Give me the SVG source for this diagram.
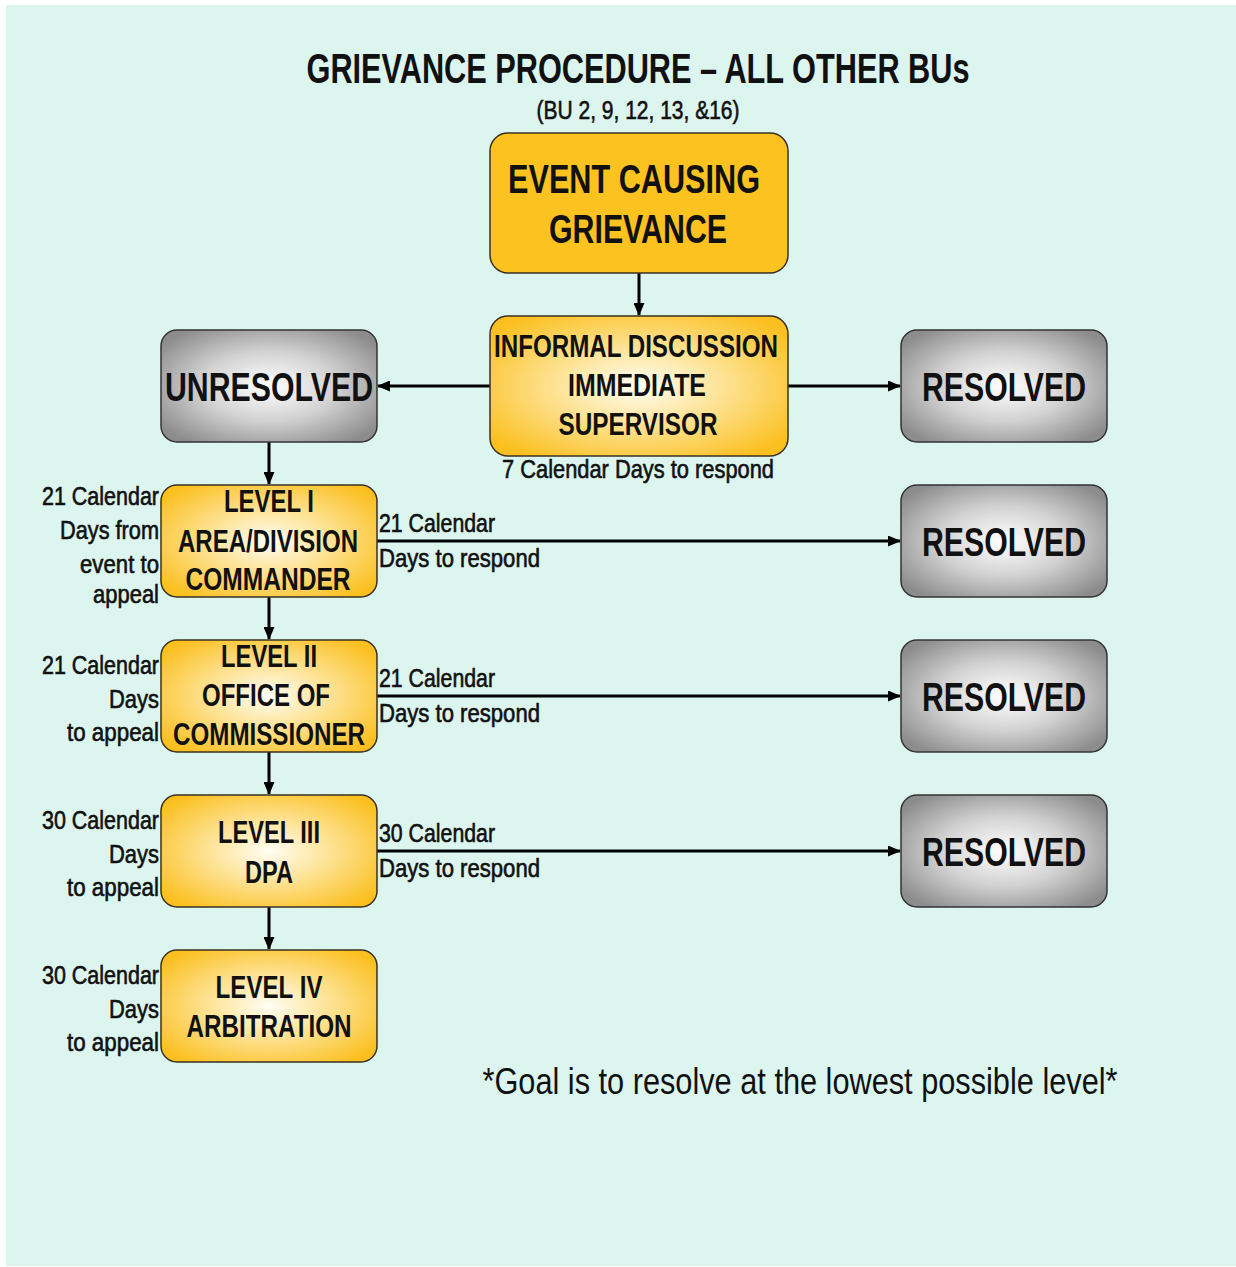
<svg xmlns="http://www.w3.org/2000/svg" width="1236" height="1267" viewBox="0 0 1236 1267">
<defs>
<radialGradient id="gold" cx="50%" cy="50%" r="62%">
<stop offset="0" stop-color="#fffdf5"/>
<stop offset="0.4" stop-color="#fee6a0"/>
<stop offset="1" stop-color="#fbc020"/>
</radialGradient>
<radialGradient id="grey" cx="50%" cy="50%" r="62%">
<stop offset="0" stop-color="#ffffff"/>
<stop offset="0.5" stop-color="#d2d2d2"/>
<stop offset="1" stop-color="#8c8c8c"/>
</radialGradient>
<marker id="ah" markerWidth="13" markerHeight="11" refX="12" refY="5.5" orient="auto" markerUnits="userSpaceOnUse">
<path d="M0,0 L13,5.5 L0,11 Z" fill="#000"/>
</marker>
</defs>
<style>
text{font-family:"Liberation Sans Narrow","Liberation Sans",Arial,sans-serif;fill:#111;}
.b{font-weight:bold;}
.box{stroke:#3a3020;stroke-width:1.5;}
.gold{fill:url(#gold);}
.grey{fill:url(#grey);stroke:#333;}
.c{stroke:#000;stroke-width:3;fill:none;marker-end:url(#ah);}
.t{font-size:31px;font-weight:bold;text-anchor:middle;}
.r{font-size:40px;font-weight:bold;text-anchor:middle;}
.lab{font-size:25px;stroke:#111;stroke-width:0.6;}
.le{font-size:25px;text-anchor:end;stroke:#111;stroke-width:0.6;}
</style>
<rect x="6" y="5" width="1230" height="1261" fill="#dcf5ef"/>
<text class="b" x="638" y="83" font-size="42" text-anchor="middle" textLength="663" lengthAdjust="spacingAndGlyphs">GRIEVANCE PROCEDURE – ALL OTHER BUs</text>
<text x="638" y="119" font-size="26" text-anchor="middle" stroke="#111" stroke-width="0.6" textLength="203" lengthAdjust="spacingAndGlyphs">(BU 2, 9, 12, 13, &amp;16)</text>

<g id="connectors">
<line class="c" x1="639" y1="273" x2="639" y2="315"/>
<line class="c" x1="490" y1="386" x2="378" y2="386"/>
<line class="c" x1="788" y1="386" x2="900" y2="386"/>
<line class="c" x1="269" y1="442" x2="269" y2="484"/>
<line class="c" x1="377" y1="541" x2="900" y2="541"/>
<line class="c" x1="269" y1="597" x2="269" y2="639"/>
<line class="c" x1="377" y1="696" x2="900" y2="696"/>
<line class="c" x1="269" y1="752" x2="269" y2="794"/>
<line class="c" x1="377" y1="851" x2="900" y2="851"/>
<line class="c" x1="269" y1="907" x2="269" y2="949"/>
</g>

<g id="event">
<rect class="box" x="490" y="133" width="298" height="140" rx="18" fill="#fcc21f"/>
<text class="b" x="634" y="193" font-size="41" text-anchor="middle" textLength="252" lengthAdjust="spacingAndGlyphs">EVENT CAUSING</text>
<text class="b" x="638" y="243" font-size="41" text-anchor="middle" textLength="178" lengthAdjust="spacingAndGlyphs">GRIEVANCE</text>
</g>

<g id="informal">
<rect class="box gold" x="490" y="316" width="298" height="140" rx="18"/>
<text class="t" x="636" y="357" textLength="284" lengthAdjust="spacingAndGlyphs">INFORMAL DISCUSSION</text>
<text class="t" x="637" y="396" textLength="138" lengthAdjust="spacingAndGlyphs">IMMEDIATE</text>
<text class="t" x="638" y="435" textLength="159" lengthAdjust="spacingAndGlyphs">SUPERVISOR</text>
<text class="lab" x="638" y="478" text-anchor="middle" textLength="272" lengthAdjust="spacingAndGlyphs">7 Calendar Days to respond</text>
</g>

<g id="unresolved">
<rect class="box grey" x="161" y="330" width="216" height="112" rx="16"/>
<text class="r" x="269" y="401" textLength="208" lengthAdjust="spacingAndGlyphs">UNRESOLVED</text>
</g>

<g id="resolved0">
<rect class="box grey" x="901" y="330" width="206" height="112" rx="16"/>
<text class="r" x="1004" y="401" textLength="164" lengthAdjust="spacingAndGlyphs">RESOLVED</text>
</g>
<g id="resolved1">
<rect class="box grey" x="901" y="485" width="206" height="112" rx="16"/>
<text class="r" x="1004" y="556" textLength="164" lengthAdjust="spacingAndGlyphs">RESOLVED</text>
</g>
<g id="resolved2">
<rect class="box grey" x="901" y="640" width="206" height="112" rx="16"/>
<text class="r" x="1004" y="711" textLength="164" lengthAdjust="spacingAndGlyphs">RESOLVED</text>
</g>
<g id="resolved3">
<rect class="box grey" x="901" y="795" width="206" height="112" rx="16"/>
<text class="r" x="1004" y="866" textLength="164" lengthAdjust="spacingAndGlyphs">RESOLVED</text>
</g>

<g id="level1">
<rect class="box gold" x="161" y="485" width="216" height="112" rx="16"/>
<text class="t" x="269" y="512" textLength="90" lengthAdjust="spacingAndGlyphs">LEVEL I</text>
<text class="t" x="268" y="552" textLength="180" lengthAdjust="spacingAndGlyphs">AREA/DIVISION</text>
<text class="t" x="268" y="590" textLength="165" lengthAdjust="spacingAndGlyphs">COMMANDER</text>
<text class="le" x="159" y="505" textLength="117" lengthAdjust="spacingAndGlyphs">21 Calendar</text>
<text class="le" x="159" y="539" textLength="99" lengthAdjust="spacingAndGlyphs">Days from</text>
<text class="le" x="159" y="573" textLength="79" lengthAdjust="spacingAndGlyphs">event to</text>
<text class="le" x="159" y="603" textLength="66" lengthAdjust="spacingAndGlyphs">appeal</text>
<text class="lab" x="379" y="532" textLength="116" lengthAdjust="spacingAndGlyphs">21 Calendar</text>
<text class="lab" x="379" y="567" textLength="161" lengthAdjust="spacingAndGlyphs">Days to respond</text>
</g>

<g id="level2">
<rect class="box gold" x="161" y="640" width="216" height="112" rx="16"/>
<text class="t" x="269" y="667" textLength="96" lengthAdjust="spacingAndGlyphs">LEVEL II</text>
<text class="t" x="266" y="706" textLength="128" lengthAdjust="spacingAndGlyphs">OFFICE OF</text>
<text class="t" x="269" y="745" textLength="192" lengthAdjust="spacingAndGlyphs">COMMISSIONER</text>
<text class="le" x="159" y="674" textLength="117" lengthAdjust="spacingAndGlyphs">21 Calendar</text>
<text class="le" x="159" y="708" textLength="50" lengthAdjust="spacingAndGlyphs">Days</text>
<text class="le" x="159" y="741" textLength="92" lengthAdjust="spacingAndGlyphs">to appeal</text>
<text class="lab" x="379" y="687" textLength="116" lengthAdjust="spacingAndGlyphs">21 Calendar</text>
<text class="lab" x="379" y="722" textLength="161" lengthAdjust="spacingAndGlyphs">Days to respond</text>
</g>

<g id="level3">
<rect class="box gold" x="161" y="795" width="216" height="112" rx="16"/>
<text class="t" x="269" y="843" textLength="102" lengthAdjust="spacingAndGlyphs">LEVEL III</text>
<text class="t" x="269" y="883" textLength="48" lengthAdjust="spacingAndGlyphs">DPA</text>
<text class="le" x="159" y="829" textLength="117" lengthAdjust="spacingAndGlyphs">30 Calendar</text>
<text class="le" x="159" y="863" textLength="50" lengthAdjust="spacingAndGlyphs">Days</text>
<text class="le" x="159" y="896" textLength="92" lengthAdjust="spacingAndGlyphs">to appeal</text>
<text class="lab" x="379" y="842" textLength="116" lengthAdjust="spacingAndGlyphs">30 Calendar</text>
<text class="lab" x="379" y="877" textLength="161" lengthAdjust="spacingAndGlyphs">Days to respond</text>
</g>

<g id="level4">
<rect class="box gold" x="161" y="950" width="216" height="112" rx="16"/>
<text class="t" x="269" y="998" textLength="107" lengthAdjust="spacingAndGlyphs">LEVEL IV</text>
<text class="t" x="269" y="1037" textLength="165" lengthAdjust="spacingAndGlyphs">ARBITRATION</text>
<text class="le" x="159" y="984" textLength="117" lengthAdjust="spacingAndGlyphs">30 Calendar</text>
<text class="le" x="159" y="1018" textLength="50" lengthAdjust="spacingAndGlyphs">Days</text>
<text class="le" x="159" y="1051" textLength="92" lengthAdjust="spacingAndGlyphs">to appeal</text>
</g>

<text x="800" y="1094" font-size="36" text-anchor="middle" textLength="635" lengthAdjust="spacingAndGlyphs">*Goal is to resolve at the lowest possible level*</text>
</svg>
